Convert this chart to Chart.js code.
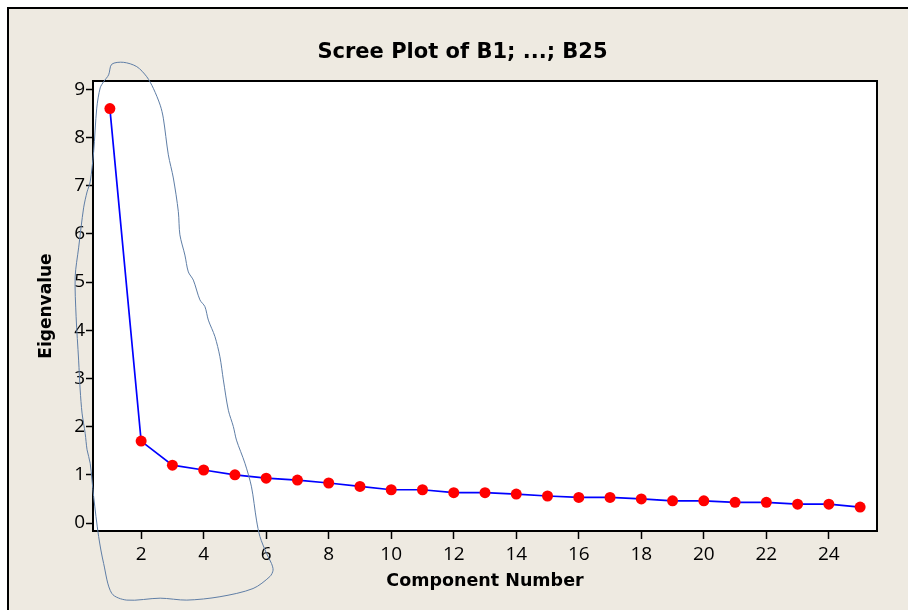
<!DOCTYPE html>
<html><head><meta charset="utf-8">
<script src="https://cdn.jsdelivr.net/npm/chart.js@4.4.1/dist/chart.umd.min.js"></script>
<style>
html,body{margin:0;padding:0;background:#fff;width:908px;height:610px;overflow:hidden;}
#wrap{position:absolute;left:0;top:0;width:908px;height:610px;}
canvas{display:block;}
</style></head><body>
<div id="wrap"><canvas id="c" width="908" height="610"></canvas></div>
<script>
// ---- data ----
const components = [1,2,3,4,5,6,7,8,9,10,11,12,13,14,15,16,17,18,19,20,21,22,23,24,25];
const eigenvalues = [8.60,1.70,1.20,1.10,1.00,0.93,0.89,0.83,0.76,0.69,0.69,0.63,0.63,0.60,0.56,0.53,0.53,0.50,0.46,0.46,0.43,0.43,0.39,0.39,0.33];
const xTickValues = [2,4,6,8,10,12,14,16,18,20,22,24];
const yTickValues = [0,1,2,3,4,5,6,7,8,9];
const titleText = 'Scree Plot of B1; ...; B25';
const xTitle = 'Component Number';
const yTitle = 'Eigenvalue';
// hand-drawn loop annotation, in data units (component, eigenvalue)
const loopX = [0.80,0.69,0.58,0.48,0.37,0.27,0.16,0.00,-0.11,-0.08,0.00,0.05,0.11,0.21,0.27,0.37,0.48,0.64,0.80,1.06,1.54,2.61,3.46,4.52,5.58,6.12,6.22,6.17,6.01,5.80,5.69,5.53,5.32,5.05,4.95,4.79,4.63,4.52,4.36,4.15,4.04,3.88,3.67,3.51,3.40,3.24,3.19,3.03,2.87,2.71,2.61,2.39,2.18,1.86,1.43,1.06,0.96,0.80];
const loopY = [9.16,9.03,8.61,7.70,7.08,6.87,6.54,5.71,5.11,4.28,3.38,2.76,2.28,1.86,1.52,1.24,0.55,-0.28,-0.84,-1.46,-1.60,-1.56,-1.60,-1.53,-1.36,-1.11,-0.98,-0.84,-0.63,-0.28,0.06,0.75,1.24,1.72,2.00,2.34,2.97,3.45,3.87,4.21,4.49,4.63,5.04,5.21,5.56,5.98,6.46,7.16,7.64,8.40,8.67,9.02,9.26,9.47,9.56,9.52,9.30,9.16];

const screePoints = components.map((c, i) => ({x: c, y: eigenvalues[i]}));
const loopPoints = loopX.map((x, i) => ({x: x, y: loopY[i]}));

const plotFrame = {
  id: 'plotFrame',
  beforeDraw(chart) {
    const {ctx, chartArea: a, width, height} = chart;
    ctx.save();
    ctx.fillStyle = '#ffffff';
    ctx.fillRect(0, 0, width, height);
    ctx.fillStyle = '#EEEAE1';
    ctx.fillRect(7, 7, width - 7, height - 7);
    ctx.fillStyle = '#000000';
    ctx.fillRect(7, 7, width - 7, 2);
    ctx.fillRect(7, 7, 2, height - 7);
    ctx.fillStyle = '#ffffff';
    ctx.fillRect(a.left, a.top, a.right - a.left, a.bottom - a.top);
    ctx.restore();
  },
  beforeDatasetsDraw(chart) {
    const {ctx, chartArea: a} = chart;
    ctx.save();
    ctx.strokeStyle = '#000000';
    ctx.lineWidth = 2;
    ctx.strokeRect(a.left, a.top, a.right - a.left, a.bottom - a.top);
    ctx.restore();
  }
};

const tickFont = {family: "'Open Sans', sans-serif", size: 19};

new Chart(document.getElementById('c'), {
  type: 'scatter',
  data: {
    datasets: [
      {
        label: 'Eigenvalue',
        data: screePoints,
        showLine: true,
        borderColor: '#0000FF',
        borderWidth: 1.7,
        pointBackgroundColor: '#FF0000',
        pointBorderColor: '#FF0000',
        pointBorderWidth: 0,
        pointRadius: 5.5,
        order: 1
      },
      {
        label: 'loop',
        data: loopPoints,
        showLine: true,
        borderColor: '#5F7EA6',
        borderWidth: 1,
        pointRadius: 0,
        tension: 0.3,
        clip: false,
        order: 0
      }
    ]
  },
  options: {
    responsive: false,
    animation: false,
    devicePixelRatio: 1,
    layout: {padding: {left: 17, right: 0, top: 0, bottom: 0}},
    plugins: {
      legend: {display: false},
      tooltip: {enabled: false},
      title: {
        display: true,
        text: titleText,
        color: '#000',
        font: {family: "'DejaVu Sans', sans-serif", size: 21, weight: 'bold', lineHeight: 1.2},
        padding: {top: 39.5, bottom: 16.3}
      }
    },
    scales: {
      x: {
        type: 'linear',
        position: 'bottom',
        min: 0.46,
        max: 25.54,
        afterBuildTicks: s => { s.ticks = xTickValues.map(v => ({value: v})); },
        afterFit: s => { s.height = 79; s.paddingRight = 31; },
        ticks: {color: '#000', font: tickFont, padding: 4, maxRotation: 0, autoSkip: false},
        grid: {display: true, drawOnChartArea: false, drawTicks: true, tickLength: 8, tickColor: '#000', tickWidth: 1.5},
        border: {display: false},
        title: {display: true, text: xTitle, color: '#000',
          font: {family: "'DejaVu Sans', sans-serif", size: 17.5, weight: 'bold', lineHeight: 1.2},
          padding: {top: 0, bottom: 18}}
      },
      y: {
        type: 'linear',
        position: 'left',
        min: -0.166,
        max: 9.172,
        afterBuildTicks: s => { s.ticks = yTickValues.map(v => ({value: v})); },
        afterFit: s => { s.width = 76; },
        ticks: {color: '#000', font: tickFont, padding: 1},
        grid: {display: true, drawOnChartArea: false, drawTicks: true, tickLength: 7, tickColor: '#000', tickWidth: 1.5},
        border: {display: false},
        title: {display: true, text: yTitle, color: '#000',
          font: {family: "'DejaVu Sans', sans-serif", size: 17, weight: 'bold', lineHeight: 1.2},
          padding: {top: 19, bottom: 0}}
      }
    }
  },
  plugins: [plotFrame]
});
</script>
</body></html>
